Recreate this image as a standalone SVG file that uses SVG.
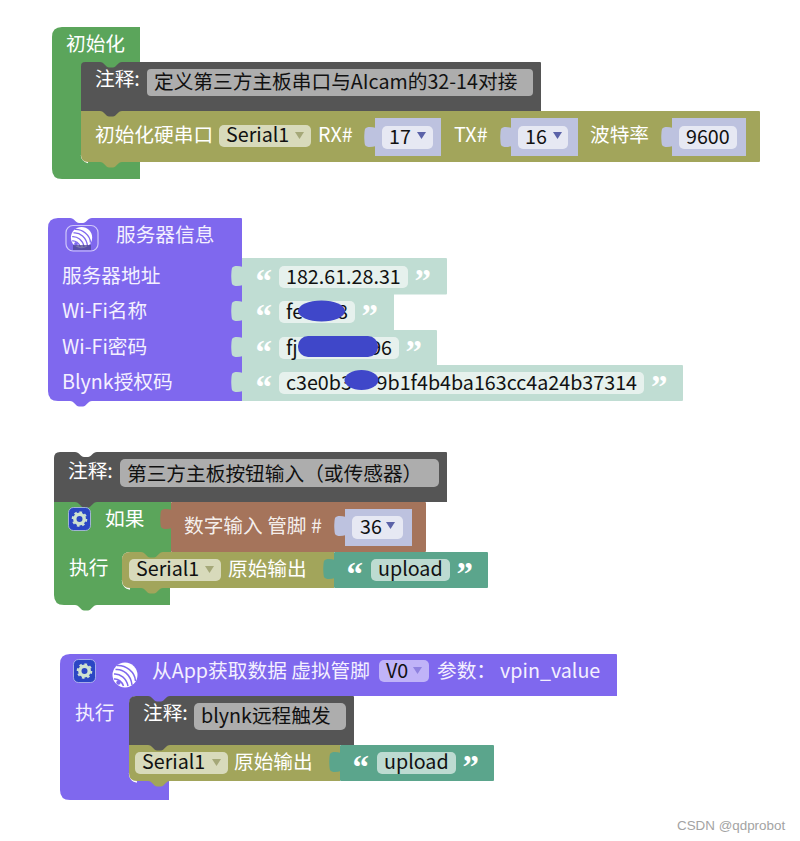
<svg xmlns="http://www.w3.org/2000/svg" width="800" height="841" viewBox="0 0 800 841">
<style>
text{font-family:"Noto Sans CJK SC","Noto Sans",sans-serif;font-size:19.7px;transform:translateY(.7px)}
.w{fill:#fff}
.pw{fill:#f4f0ff}
.k{fill:#111}
text.q{font-family:"Liberation Serif",serif;font-weight:bold;font-size:33px;transform:none}
.green{fill:#5ba55b}.dark{fill:#555}.olive{fill:#a2a55b}.purple{fill:#7f68ee}.pale{fill:#c0ddd3}.brown{fill:#a5745b}.teal{fill:#5ba58c}.blue{fill:#bdc2df}
.fblue{fill:#e6e8f3}.fcom{fill:#adadad}.fser{fill:#d8dabb}.fpale{fill:#e6f1ed}.fteal{fill:#bddbd1}.fpur{fill:#c0b3f8}
.blob{fill:#3f47c9}
.tri{fill:#5b62a8}.trio{fill:#a5a878}.trip{fill:#8f82e0}
.hl{fill:none;stroke:#fff;stroke-width:1.500}
</style>
<defs>
<path id="tab" d="M1 0C-3-1-8-2-10 1C-11 5-11 13-10 17C-8 20-3 19 1 18Z"/>
<path id="bump" d="M0 0C4 0 6 5.500 9 5.500H13C16 5.500 18 0 22 0Z"/>
<path id="arrow" d="M0 0H9L4.500 7Z"/>
<g id="gear"><rect x="0.500" y="0.500" width="22" height="23" rx="5" fill="#2b46c4" stroke="#c9cdf0" stroke-opacity=".7"/><circle cx="11.500" cy="12" r="4.700" fill="none" stroke="#cfe2d0" stroke-width="3.400"/><circle cx="11.500" cy="12" r="6.800" fill="none" stroke="#cfe2d0" stroke-width="2" stroke-dasharray="2.600 2.700"/></g>
<g id="esp"><circle cx="13" cy="13" r="12.500" fill="#fff"/><g fill="none" stroke="#7f68ee" stroke-width="1.500"><path d="M3.500 7.500C11 6.500 19 13 20 23"/><path d="M5 3.500C14 3 23 10 23.500 19"/><path d="M2 12C8 11.500 14.500 16 16 24"/><path d="M2 17C6 16.500 10 19.500 11.500 24"/></g><circle cx="6.500" cy="20.500" r="2.200" fill="#7f68ee"/></g>
</defs>

<g id="connectors"></g>

<g id="block-init">
<path class="green" d="M56 27H140V62H88Q81 62 81 69V155Q81 162 88 162H140V179H62Q52 179 52 169V37Q52 27 62 27Z"/>
<text x="66" y="50" class="w">初始化</text>
<g id="comment-1">
<path class="dark" d="M85 62H540Q541 62 541 63V111H81V66Q81 62 85 62Z"/>
<use href="#bump" x="100" y="62" class="green"/>
<rect x="147" y="69" width="386" height="27" rx="4" class="fcom"/>
<text x="95" y="85" class="w">注释:</text>
<text x="154" y="88" class="k">定义第三方主板串口与AIcam的32-14对接</text>
</g>
<g id="serial-init">
<path class="hl" d="M81.500 155Q82 161 88 162.500"/>
<path class="olive" d="M81 111H759Q760 111 760 112V161Q760 162 759 162H88Q81 162 81 155Z"/>
<use href="#bump" x="100" y="111" class="dark"/>
<use href="#bump" x="100" y="162" class="olive"/>
<text x="95" y="141" class="w">初始化硬串口</text>
<rect x="219" y="125" width="92" height="22" rx="5" class="fser"/>
<text x="226" y="141" class="k">Serial1</text>
<use href="#arrow" x="295" y="132" class="trio"/>
<text x="318" y="141" class="w">RX#</text>
<rect x="375" y="118" width="66" height="38" class="blue"/>
<use href="#tab" x="375" y="128" class="blue"/>
<rect x="382" y="126" width="51" height="23" rx="5" class="fblue"/>
<text x="389" y="143" class="k">17</text>
<use href="#arrow" x="417" y="132" class="tri"/>
<text x="454" y="141" class="w">TX#</text>
<rect x="511" y="118" width="67" height="38" class="blue"/>
<use href="#tab" x="511" y="128" class="blue"/>
<rect x="518" y="126" width="50" height="23" rx="5" class="fblue"/>
<text x="525" y="143" class="k">16</text>
<use href="#arrow" x="553" y="132" class="tri"/>
<text x="590" y="141" class="w">波特率</text>
<rect x="672" y="118" width="74" height="38" class="blue"/>
<use href="#tab" x="672" y="128" class="blue"/>
<rect x="679" y="126" width="58" height="23" rx="5" class="fblue"/>
<text x="686" y="143" class="k">9600</text>
</g>
</g>

<g id="block-server">
<rect x="241" y="258" width="206" height="36.500" rx="1" class="pale"/>
<rect x="241" y="294" width="153" height="36.500" class="pale"/>
<rect x="241" y="330" width="196" height="35.500" rx="1" class="pale"/>
<rect x="241" y="365" width="442" height="36" rx="1" class="pale"/>
<path class="purple" d="M58 218H241Q242 218 242 219V401H58Q48 401 48 391V228Q48 218 58 218Z"/>
<path fill="#fff" d="M70 218C74 218 76 223 79 223H83C86 223 88 218 92 218Z"/>
<use href="#bump" x="70" y="401" class="purple"/>
<rect x="66" y="225.500" width="32" height="25.500" rx="7" fill="none" stroke="#cfc7fa" stroke-width="1.200"/>
<g transform="translate(70.500 226.500) scale(.85)"><use href="#esp"/></g>
<rect x="73" y="245" width="18" height="5" fill="#4b4590" opacity=".75"/>
<text x="116" y="241" class="pw">服务器信息</text>
<text x="62" y="282" class="pw">服务器地址</text>
<text x="62" y="317" class="pw">Wi-Fi名称</text>
<text x="62" y="353" class="pw">Wi-Fi密码</text>
<text x="62" y="388" class="pw">Blynk授权码</text>
<use href="#tab" x="242" y="267" class="pale"/>
<use href="#tab" x="242" y="302" class="pale"/>
<use href="#tab" x="242" y="338" class="pale"/>
<use href="#tab" x="242" y="373" class="pale"/>
<text x="255.500" y="292" class="q w">“</text><text x="414.500" y="292" class="q w">”</text>
<text x="255.500" y="327" class="q w">“</text><text x="361.500" y="327" class="q w">”</text>
<text x="255.500" y="363" class="q w">“</text><text x="405.500" y="363" class="q w">”</text>
<text x="255.500" y="398" class="q w">“</text><text x="651" y="398" class="q w">”</text>
<rect x="279" y="266" width="129" height="22" rx="5" class="fpale"/>
<rect x="279" y="301" width="76" height="22" rx="5" class="fpale"/>
<rect x="279" y="337" width="120" height="22" rx="5" class="fpale"/>
<rect x="279" y="372" width="365" height="22" rx="5" class="fpale"/>
<text x="286" y="283" class="k">182.61.28.31</text>
<text x="286" y="318" class="k">fe</text>
<text x="348" y="318" class="k" text-anchor="end">8</text>
<text x="286" y="354" class="k">fj</text>
<text x="392" y="354" class="k" text-anchor="end">96</text>
<text x="286" y="389" class="k">c3e0b3</text>
<text x="637" y="389" class="k" text-anchor="end">9b1f4b4ba163cc4a24b37314</text>
<ellipse cx="321.500" cy="311" rx="23.500" ry="10.500" class="blob"/>
<rect x="298" y="336" width="80" height="21" rx="10" class="blob"/>
<ellipse cx="361.500" cy="380" rx="17" ry="10" class="blob"/>
</g>

<g id="block-comment-button">
<path class="dark" d="M60 452H446Q447 452 447 453V502H54V458Q54 452 60 452Z"/>
<path fill="#fff" d="M75 452C79 452 81 457 84 457H88C91 457 93 452 97 452Z"/>
<rect x="120" y="459" width="319" height="28" rx="5" class="fcom"/>
<text x="68" y="477" class="w">注释:</text>
<text x="127" y="480" class="k">第三方主板按钮输入（或传感器）</text>
</g>
<g id="block-if">
<path class="green" d="M54 502H171V552H130Q122 552 122 560V580Q122 588 130 588H170V605H64Q54 605 54 595Z"/>
<use href="#bump" x="75" y="502" class="dark"/>
<use href="#bump" x="75" y="605" class="green"/>
<use href="#gear" x="68" y="507"/>
<text x="105" y="525" class="w">如果</text>
<text x="69" y="574" class="w">执行</text>
</g>
<g id="block-digital-read">
<rect x="171" y="502" width="255" height="50" rx="1" class="brown"/>
<use href="#tab" x="171" y="510" class="brown"/>
<text x="184" y="532" class="w" fill-opacity=".9">数字输入 管脚 #</text>
<rect x="345" y="509" width="67" height="37" class="blue"/>
<use href="#tab" x="345" y="517" class="blue"/>
<rect x="352" y="516" width="51" height="23" rx="5" class="fblue"/>
<text x="360" y="533" class="k">36</text>
<use href="#arrow" x="386" y="522" class="tri"/>
</g>
<g id="block-serial-print-1">
<path class="hl" d="M122.500 580Q123 588 130 589"/>
<path class="olive" d="M130 552H334V588H130Q122 588 122 580V560Q122 552 130 552Z"/>
<use href="#bump" x="141" y="552" class="green"/>
<use href="#bump" x="141" y="588" class="olive"/>
<rect x="129" y="559" width="92" height="22" rx="5" class="fser"/>
<text x="136" y="575" class="k">Serial1</text>
<use href="#arrow" x="205" y="566" class="trio"/>
<text x="228" y="575" class="w">原始输出</text>
<rect x="334" y="552" width="154" height="36" rx="1" class="teal"/>
<use href="#tab" x="334" y="560" class="teal"/>
<text x="346.500" y="585" class="q w">“</text>
<rect x="371" y="559" width="79" height="22" rx="5" class="fteal"/>
<text x="378" y="575" class="k">upload</text>
<text x="456.500" y="585" class="q w">”</text>
</g>

<g id="block-blynk">
<path class="purple" d="M70 654H616Q617 654 617 655V696H137Q129 696 129 704V773Q129 781 137 781H169V800H70Q60 800 60 790V664Q60 654 70 654Z"/>
<use href="#gear" x="73" y="659"/>
<g transform="translate(112 662)"><use href="#esp"/></g>
<text x="152" y="677" class="pw">从App获取数据 虚拟管脚</text>
<rect x="379" y="660" width="50" height="22" rx="5" class="fpur"/>
<text x="386" y="677" class="k">V0</text>
<use href="#arrow" x="413" y="667" class="trip"/>
<text x="437" y="677" class="pw">参数：</text>
<text x="500" y="677" class="pw">vpin_value</text>
<text x="75" y="719" class="pw">执行</text>
</g>
<g id="block-comment-blynk">
<path class="dark" d="M136 696H353Q354 696 354 697V745H129V703Q129 696 136 696Z"/>
<use href="#bump" x="148" y="696" class="purple"/>
<rect x="194" y="703" width="152" height="27" rx="5" class="fcom"/>
<text x="143" y="719" class="w">注释:</text>
<text x="201" y="722" class="k">blynk远程触发</text>
</g>
<g id="block-serial-print-2">
<path class="hl" d="M129.500 773Q130 781 137 782"/>
<path class="olive" d="M129 745H340V781H137Q129 781 129 773Z"/>
<use href="#bump" x="148" y="745" class="dark"/>
<use href="#bump" x="148" y="781" class="olive"/>
<rect x="135" y="752" width="93" height="22" rx="5" class="fser"/>
<text x="142" y="768" class="k">Serial1</text>
<use href="#arrow" x="212" y="759" class="trio"/>
<text x="234" y="768" class="w">原始输出</text>
<rect x="340" y="745" width="154" height="36" rx="1" class="teal"/>
<use href="#tab" x="340" y="753" class="teal"/>
<text x="352.500" y="778" class="q w">“</text>
<rect x="377" y="752" width="79" height="22" rx="5" class="fteal"/>
<text x="384" y="768" class="k">upload</text>
<text x="462.500" y="778" class="q w">”</text>
</g>

<text x="677" y="829" style="font-family:'Liberation Sans',sans-serif;font-size:13.400px" fill="#a3a3a3">CSDN @qdprobot</text>
</svg>
